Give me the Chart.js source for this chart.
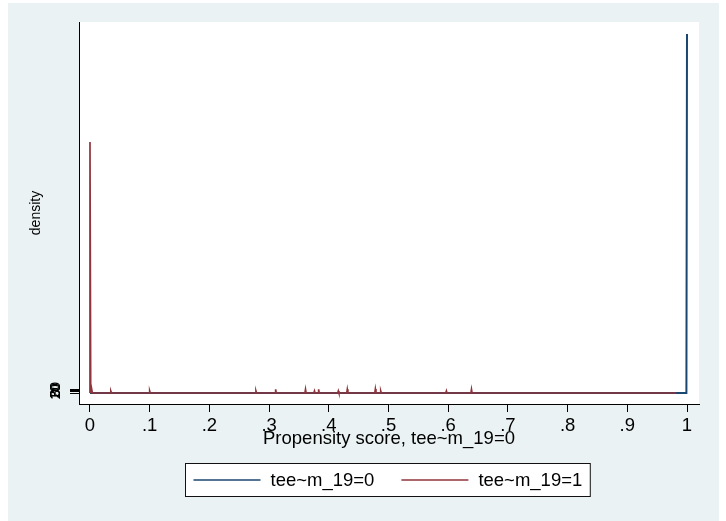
<!DOCTYPE html>
<html>
<head>
<meta charset="utf-8">
<script src="https://cdn.jsdelivr.net/npm/chart.js@4/dist/chart.umd.min.js"></script>
<style>
  html, body { margin: 0; padding: 0; background: #ffffff; }
  #wrap { width: 726px; height: 521px; }
</style>
</head>
<body>
<div id="wrap"><canvas id="c" width="726" height="521"></canvas></div>
<script>
// ---- data ----
const seriesLabels = ['tee~m_19=0', 'tee~m_19=1'];
const xTickValues = [0, 0.1, 0.2, 0.3, 0.4, 0.5, 0.6, 0.7, 0.8, 0.9, 1];
const xTickLabels = ['0', '.1', '.2', '.3', '.4', '.5', '.6', '.7', '.8', '.9', '1'];
const yTickValues = [0, 10, 20, 30];
const yTickLabels = ['0', '10', '20', '30'];
const xTitle = 'Propensity score, tee~m_19=0';
const yTitle = 'density';

// treated = 0 : density (spike at 1)
const blueX = [0, 0.999, 1];
const blueY = [0, 0, 3400];

// treated = 1 : density (spike at 0, tiny bumps along the baseline)
const redX = [0, 0, 0.0012, 0.0025, 0.004,
  0.034, 0.035, 0.036,
  0.099, 0.100, 0.101,
  0.277, 0.278, 0.279,
  0.310, 0.311, 0.312,
  0.360, 0.361, 0.362,
  0.375, 0.376, 0.377,
  0.382, 0.383, 0.384,
  0.415, 0.416, 0.417,
  0.430, 0.431, 0.432,
  0.477, 0.478, 0.479,
  0.486, 0.487, 0.488,
  0.596, 0.597, 0.598,
  0.638, 0.639, 0.640,
  0.982];
const redY = [0, 2377, 0, 47, 0,
  0, 16, 0,
  0, 19, 0,
  0, 19, 0,
  0, 35, 0,
  0, 35, 0,
  0, 19, 0,
  0, 35, 0,
  0, 19, 0,
  0, 35, 0,
  0, 38, 0,
  0, 19, 0,
  0, 19, 0,
  0, 35, 0,
  0];

const blueColor = '#1a476f';
const redColor = '#90353b';

const toPts = (xs, ys) => xs.map((x, i) => ({ x: x, y: ys[i] }));

const bgPlugin = {
  id: 'stataBg',
  beforeDraw(chart) {
    const ctx = chart.ctx;
    const a = chart.chartArea;
    ctx.save();
    ctx.fillStyle = '#ffffff';
    ctx.fillRect(0, 0, chart.width, chart.height);
    ctx.fillStyle = '#eaf2f3';
    ctx.fillRect(8, 3, 711, chart.height - 3);
    ctx.fillStyle = '#ffffff';
    ctx.fillRect(a.left, a.top, a.right - a.left, a.bottom - a.top);
    ctx.restore();
  }
};

const legendPlugin = {
  id: 'stataLegend',
  afterDraw(chart) {
    const ctx = chart.ctx;
    const a = chart.chartArea;
    const font = '18.5px "Liberation Sans", Arial, sans-serif';
    ctx.save();
    ctx.font = font;
    const lineLen = 67, gapLT = 10, gapItems = 27, pad = 8;
    const colors = [blueColor, redColor];
    const widths = seriesLabels.map(t => ctx.measureText(t).width);
    const inner = lineLen + gapLT + widths[0] + gapItems + lineLen + gapLT + widths[1];
    const boxW = inner + pad * 2;
    const cx = (a.left + a.right) / 2;
    const boxX = Math.round(cx - boxW / 2) - 1.5;
    const boxY = a.bottom + 59.5;
    const boxH = 33;
    ctx.fillStyle = '#ffffff';
    ctx.fillRect(boxX, boxY, boxW, boxH);
    ctx.strokeStyle = '#111111';
    ctx.lineWidth = 1;
    ctx.strokeRect(boxX, boxY, boxW, boxH);
    let x = boxX + pad;
    const yMid = boxY + boxH / 2;
    for (let i = 0; i < seriesLabels.length; i++) {
      ctx.strokeStyle = colors[i];
      ctx.lineWidth = 1.6;
      ctx.beginPath();
      ctx.moveTo(x, yMid);
      ctx.lineTo(x + lineLen, yMid);
      ctx.stroke();
      x += lineLen + gapLT;
      ctx.fillStyle = '#000000';
      ctx.textBaseline = 'middle';
      ctx.textAlign = 'left';
      ctx.fillText(seriesLabels[i], x, yMid + 1);
      x += widths[i] + gapItems;
    }
    ctx.restore();
  }
};

new Chart(document.getElementById('c'), {
  type: 'line',
  data: {
    datasets: [
      { label: seriesLabels[0], data: toPts(blueX, blueY), borderColor: blueColor,
        borderWidth: 2, pointRadius: 0, tension: 0, fill: false, order: 1 },
      { label: seriesLabels[1], data: toPts(redX, redY), borderColor: redColor,
        borderWidth: 1.7, pointRadius: 0, tension: 0, fill: false, order: 0 }
    ]
  },
  options: {
    responsive: false,
    animation: false,
    events: [],
    layout: { padding: { left: 0, right: 27, top: 22, bottom: 71 } },
    plugins: { legend: { display: false }, tooltip: { enabled: false } },
    scales: {
      x: {
        type: 'linear',
        min: -0.0184,
        max: 1.0201,
        afterBuildTicks: s => { s.ticks = xTickValues.map(v => ({ value: v })); },
        afterFit: s => { s.height = 46; },
        ticks: {
          autoSkip: false,
          maxRotation: 0,
          padding: 3,
          color: '#000',
          font: { family: '"Liberation Sans", Arial, sans-serif', size: 18.5 },
          callback: (v) => { const i = xTickValues.findIndex(t => Math.abs(t - v) < 1e-9); return i >= 0 ? xTickLabels[i] : ''; }
        },
        grid: { display: true, drawOnChartArea: false, drawTicks: true, tickLength: 8, color: '#000', lineWidth: 1 },
        border: { display: true, color: '#000', width: 1 },
        title: { display: true, text: xTitle, color: '#000', padding: { top: 0, bottom: 0 },
          font: { family: '"Liberation Sans", Arial, sans-serif', size: 18.5 } }
      },
      y: {
        type: 'linear',
        min: -104,
        max: 3514,
        afterBuildTicks: s => { s.ticks = yTickValues.map(v => ({ value: v })); },
        afterFit: s => { s.width = 79; },
        ticks: {
          autoSkip: false,
          minRotation: 90,
          maxRotation: 90,
          crossAlign: 'center',
          padding: 6,
          color: '#000',
          font: { family: '"Liberation Sans", Arial, sans-serif', size: 14 },
          callback: (v) => { const i = yTickValues.indexOf(v); return i >= 0 ? yTickLabels[i] : ''; }
        },
        grid: { display: true, drawOnChartArea: false, drawTicks: true, tickLength: 9, color: '#000', lineWidth: 1 },
        border: { display: true, color: '#000', width: 1 },
        title: { display: true, text: yTitle, color: '#000', padding: { top: 28, bottom: 0 },
          font: { family: '"Liberation Sans", Arial, sans-serif', size: 14 } }
      }
    }
  },
  plugins: [bgPlugin, legendPlugin]
});
</script>
</body>
</html>
